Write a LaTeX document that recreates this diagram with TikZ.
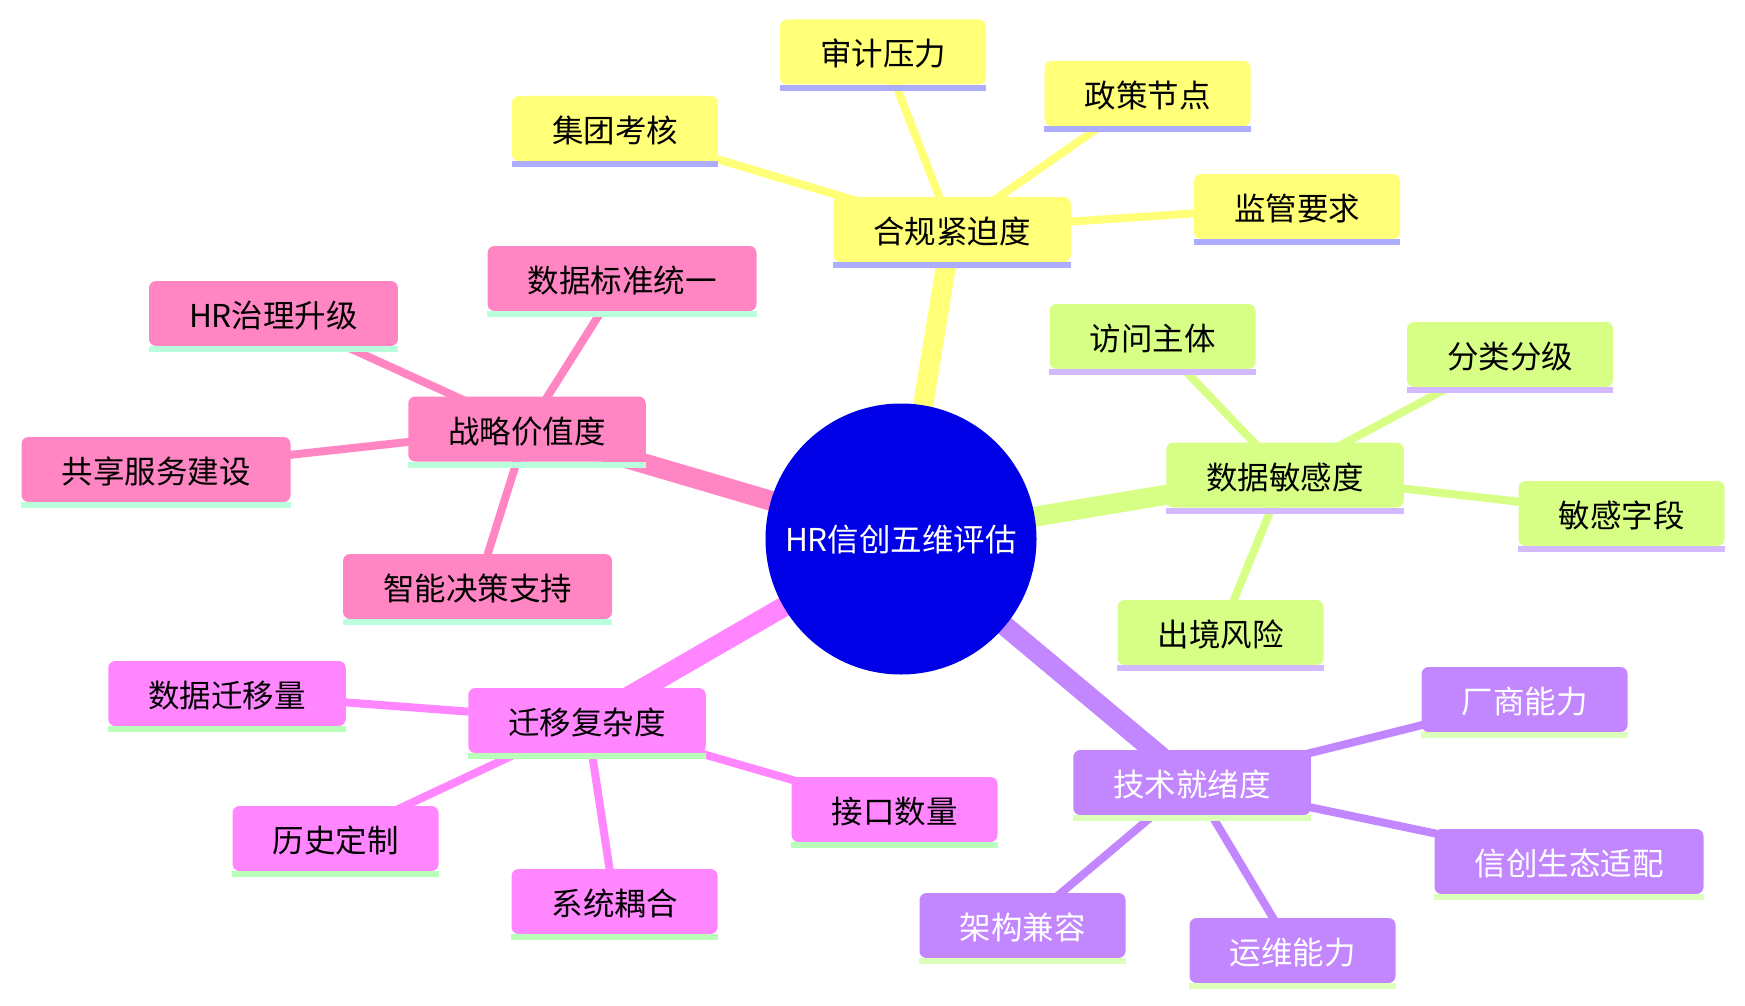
\documentclass[tikz,border=0pt]{standalone}
\usepackage{fontspec}
\setmainfont{Noto Sans CJK SC}
\usetikzlibrary{backgrounds}
\definecolor{rootc}{HTML}{0000E6}
\definecolor{yelc}{HTML}{FFFF78}
\definecolor{yelu}{HTML}{ADADFF}
\definecolor{grnc}{HTML}{D7FF86}
\definecolor{grnu}{HTML}{D3B9FF}
\definecolor{purc}{HTML}{C286FF}
\definecolor{puru}{HTML}{DCFFBA}
\definecolor{magc}{HTML}{FF86FF}
\definecolor{magu}{HTML}{B9FFB9}
\definecolor{pnkc}{HTML}{FF86C2}
\definecolor{pnku}{HTML}{B9FFDC}
\begin{document}
\begin{tikzpicture}[x=1pt,y=-1pt,every node/.style={font=\fontsize{31.5}{36}\selectfont},
  box/.style={rounded corners=7pt,inner xsep=40pt,inner ysep=0pt,minimum height=65pt,text height=30pt,text depth=2pt},
  ybox/.style={box,fill=yelc},
  gbox/.style={box,fill=grnc},
  pbox/.style={box,fill=purc,text=white},
  mbox/.style={box,fill=magc},
  kbox/.style={box,fill=pnkc},
  trunk/.style={line width=20pt},
  twig/.style={line width=8pt}]
\useasboundingbox (0,0) rectangle (1745,1006);
\node[circle,fill=rootc,text=white,minimum size=271pt,inner sep=0pt,text height=28pt,text depth=3pt] (root) at (901,539) {HR信创五维评估};
\node[ybox] (cmp) at (952,229.5) {合规紧迫度};
\node[ybox] (aud) at (883,52) {审计压力};
\node[ybox] (pol) at (1147.5,93.5) {政策节点};
\node[ybox] (grp) at (615,128.5) {集团考核};
\node[ybox] (reg) at (1297,206.5) {监管要求};
\node[gbox] (sen) at (1285,475) {数据敏感度};
\node[gbox] (acc) at (1152.5,336.5) {访问主体};
\node[gbox] (cls) at (1510,354.5) {分类分级};
\node[gbox] (fld) at (1621.5,513.5) {敏感字段};
\node[gbox] (xbr) at (1220.5,632.5) {出境风险};
\node[pbox] (tec) at (1192,782.5) {技术就绪度};
\node[pbox] (ven) at (1524.5,699.5) {厂商能力};
\node[pbox] (eco) at (1569,861.5) {信创生态适配};
\node[pbox] (arc) at (1022.5,925.5) {架构兼容};
\node[pbox] (ops) at (1292.5,950.5) {运维能力};
\node[mbox] (mig) at (587,720.5) {迁移复杂度};
\node[mbox] (vol) at (227,693.5) {数据迁移量};
\node[mbox] (his) at (335.5,838.5) {历史定制};
\node[mbox] (cpl) at (614.5,901.5) {系统耦合};
\node[mbox] (api) at (894.5,809.5) {接口数量};
\node[kbox] (str) at (527,429) {战略价值度};
\node[kbox] (std) at (622,278.5) {数据标准统一};
\node[kbox] (gov) at (273.5,313.5) {HR治理升级};
\node[kbox] (ssc) at (156,469.5) {共享服务建设};
\node[kbox] (dss) at (477.5,586.5) {智能决策支持};
\foreach \n/\u in {cmp/yelu,aud/yelu,pol/yelu,grp/yelu,reg/yelu,
  sen/grnu,acc/grnu,cls/grnu,fld/grnu,xbr/grnu,
  tec/puru,ven/puru,eco/puru,arc/puru,ops/puru,
  mig/magu,vol/magu,his/magu,cpl/magu,api/magu,
  str/pnku,std/pnku,gov/pnku,ssc/pnku,dss/pnku}
  \fill[\u] (\n.south west) rectangle ([yshift=-6pt]\n.south east);
\begin{pgfonlayer}{background}
\draw[trunk,yelc] (root.center) -- (cmp.center);
\draw[trunk,grnc] (root.center) -- (sen.center);
\draw[trunk,purc] (root.center) -- (tec.center);
\draw[trunk,magc] (root.center) -- (mig.center);
\draw[trunk,pnkc] (root.center) -- (str.center);
\foreach \p/\k/\c in {cmp/aud/yelc,cmp/pol/yelc,cmp/grp/yelc,cmp/reg/yelc,
  sen/acc/grnc,sen/cls/grnc,sen/fld/grnc,sen/xbr/grnc,
  tec/ven/purc,tec/eco/purc,tec/arc/purc,tec/ops/purc,
  mig/vol/magc,mig/his/magc,mig/cpl/magc,mig/api/magc,
  str/std/pnkc,str/gov/pnkc,str/ssc/pnkc,str/dss/pnkc}
  \draw[twig,\c] (\p.center) -- (\k.center);
\end{pgfonlayer}
\end{tikzpicture}
\end{document}
